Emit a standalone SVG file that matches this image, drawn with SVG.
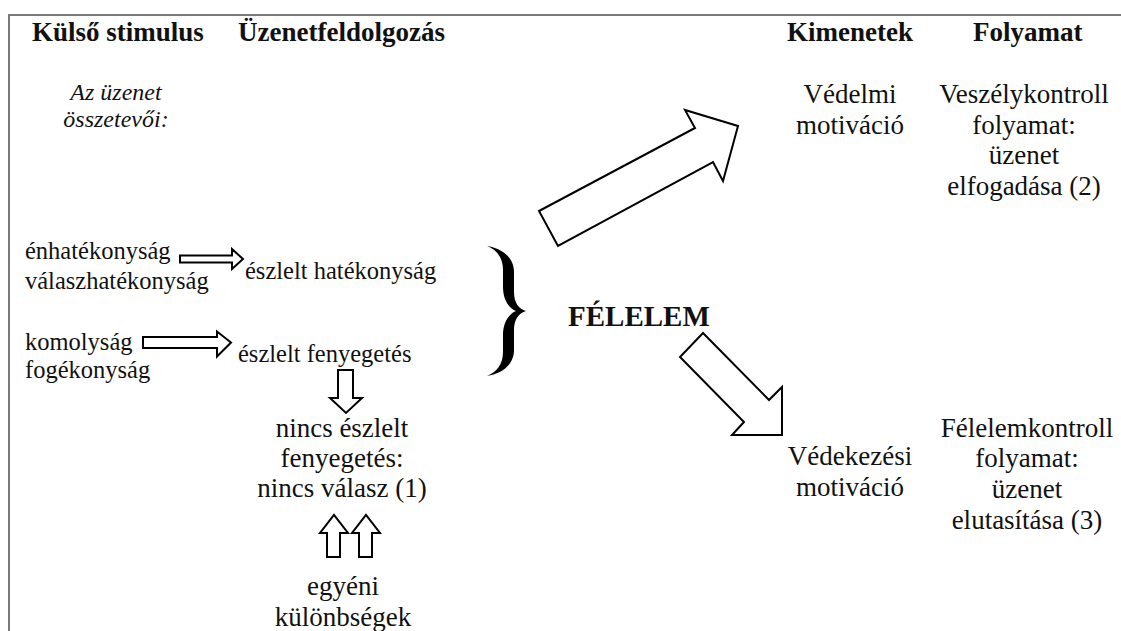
<svg xmlns="http://www.w3.org/2000/svg" width="1121" height="631" viewBox="0 0 1121 631" font-family="Liberation Serif, DejaVu Serif, serif">
  <style>
    text { font-family: "Liberation Serif", "DejaVu Serif", serif; font-size: 24.5px; fill: #111; }
    .h { font-weight: bold; font-size: 27px; }
    .i { font-style: italic; font-size: 24px; }
    .l { font-size: 27px; }
    .c { text-anchor: middle; }
    .arrow { fill: #fff; stroke: #000; stroke-width: 2; stroke-linejoin: miter; }
    .frame { stroke: #7a7a7a; stroke-width: 2; fill: none; }
  </style>

  <rect width="1121" height="631" fill="#fff"/>

  <!-- table frame -->
  <path class="frame" d="M9,631 V15 H1121"/>

  <!-- column headers -->
  <g id="headers">
    <text class="h" x="32" y="41">Külső stimulus</text>
    <text class="h" x="238" y="41">Üzenetfeldolgozás</text>
    <text class="h" x="787" y="41">Kimenetek</text>
    <text class="h" x="973" y="41">Folyamat</text>
  </g>

  <g id="message-components">
    <text class="i c" x="116" y="100">Az üzenet</text>
    <text class="i c" x="116" y="127">összetevői:</text>
  </g>

  <g id="efficacy-inputs">
    <text x="25" y="259">énhatékonyság</text>
    <text x="25" y="289">válaszhatékonyság</text>
  </g>

  <g id="threat-inputs">
    <text x="25" y="350">komolyság</text>
    <text x="25" y="378">fogékonyság</text>
  </g>

  <g id="perceived-efficacy">
    <text x="245" y="279">észlelt hatékonyság</text>
  </g>

  <g id="perceived-threat">
    <text x="238" y="362">észlelt fenyegetés</text>
  </g>

  <g id="no-response">
    <text class="l c" x="342" y="437">nincs észlelt</text>
    <text class="l c" x="342" y="467">fenyegetés:</text>
    <text class="l c" x="342" y="497">nincs válasz (1)</text>
  </g>

  <g id="individual-differences">
    <text class="l c" x="343" y="595">egyéni</text>
    <text class="l c" x="343" y="626">különbségek</text>
  </g>

  <g id="fear">
    <path id="brace" fill="#000" d="M487,246 C500,248 514,256 514,272 L514,292 C514,303 519,309 526,311 C519,313 514,319 514,330 L514,350 C514,366 500,374 487,376 C497,372 503,364 503,352 L503,335 C503,322 509,314 516,311 C509,308 503,300 503,287 L503,270 C503,258 497,250 487,246 Z"/>
    <text class="h" x="568" y="326" style="font-size:29px">FÉLELEM</text>
  </g>

  <g id="protection-motivation">
    <text class="l c" x="850" y="103">Védelmi</text>
    <text class="l c" x="850" y="134">motiváció</text>
  </g>

  <g id="danger-control">
    <text class="l c" x="1024" y="103">Veszélykontroll</text>
    <text class="l c" x="1024" y="134">folyamat:</text>
    <text class="l c" x="1024" y="164">üzenet</text>
    <text class="l c" x="1024" y="195">elfogadása (2)</text>
  </g>

  <g id="defensive-motivation">
    <text class="l c" x="850" y="465">Védekezési</text>
    <text class="l c" x="850" y="496">motiváció</text>
  </g>

  <g id="fear-control">
    <text class="l c" x="1027" y="437">Félelemkontroll</text>
    <text class="l c" x="1027" y="467">folyamat:</text>
    <text class="l c" x="1027" y="498">üzenet</text>
    <text class="l c" x="1027" y="529">elutasítása (3)</text>
  </g>

  <!-- block arrows -->
  <g id="connectors">
    <polygon class="arrow" points="180,255.5 232,255.5 232,249 243,259 232,269 232,262.5 180,262.5"/>
    <polygon class="arrow" points="143,337 217,337 217,331.5 231,342.5 217,356.5 217,348 143,348"/>
    <polygon class="arrow" points="338,370 353,370 353,398 362,398 346,413 330,398 338,398"/>
    <polygon class="arrow" points="327,557 340,557 340,533 348,533 334,515 320,533 327,533"/>
    <polygon class="arrow" points="359,557 372,557 372,533 380,533 366,515 352,533 359,533"/>
    <polygon class="arrow" points="558,246 539,211 695,128 685,110 738,126 723,181 713,162"/>
    <polygon class="arrow" points="703,333 680,357 744,422 732,435 782,435 782,387 769,400"/>
  </g>
</svg>
